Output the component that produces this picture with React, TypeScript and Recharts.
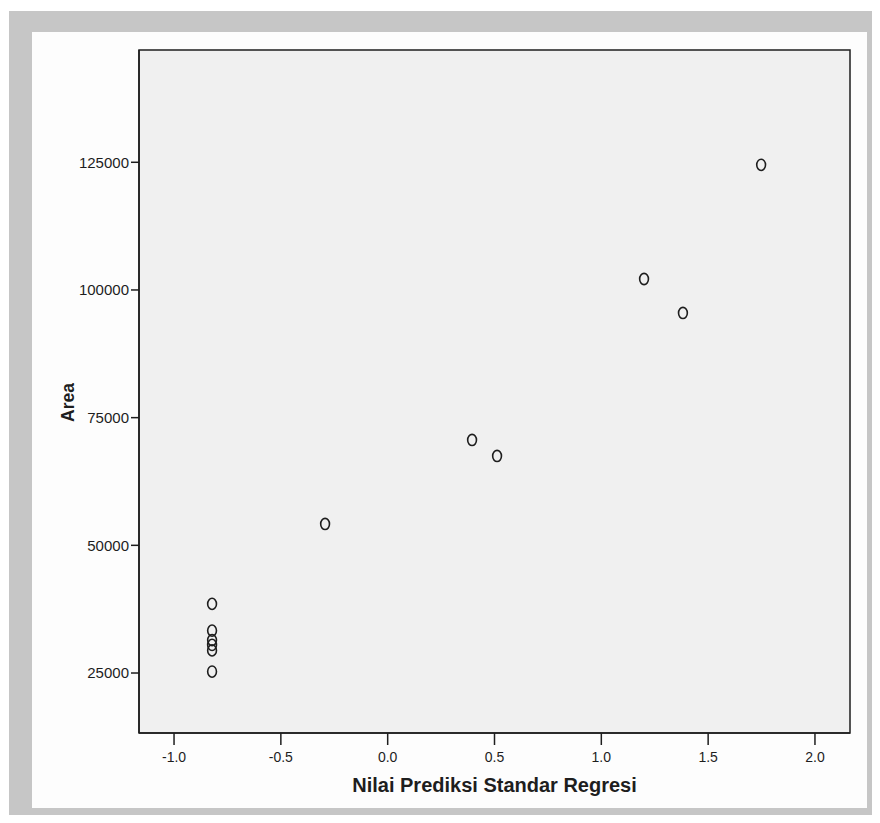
import { ScatterChart, Scatter, XAxis, YAxis, CartesianGrid, ReferenceArea } from "recharts";

const predicted = [1.748, 1.2, 1.382, 0.395, 0.512, -0.293, -0.822, -0.822, -0.822, -0.822, -0.822, -0.822];
const area = [124500, 102150, 95500, 70630, 67500, 54190, 38530, 33300, 31440, 30500, 29430, 25280];
const xTicks = [-1.0, -0.5, 0.0, 0.5, 1.0, 1.5, 2.0];
const yTicks = [25000, 50000, 75000, 100000, 125000];
const xDomain = [-1.164, 2.164];
const yDomain = [13254, 146985];

const points = predicted.map((x, i) => ({ x, y: area[i] }));

const FONT = '"Liberation Sans", Arial, sans-serif';
const INK = "#1e1e1e";

const Ring = (props: any) => (
  <ellipse cx={props.cx} cy={props.cy} rx={4.4} ry={5.6} fill="none" stroke={INK} strokeWidth={1.6} />
);

const YTitle = ({ viewBox }: any) => {
  const cx = viewBox.x + 8.5;
  const cy = viewBox.y + viewBox.height / 2 + 11;
  return (
    <text x={cx} y={cy} transform={`rotate(-90, ${cx}, ${cy})`} textAnchor="middle" dominantBaseline="central"
      fontFamily={FONT} fontWeight="bold" fontSize={17.5} fill={INK}>
      Area
    </text>
  );
};

const XTitle = ({ viewBox }: any) => (
  <text x={viewBox.x + viewBox.width / 2} y={viewBox.y + 59} textAnchor="middle"
    fontFamily={FONT} fontWeight="bold" fontSize={20} fill={INK}>
    Nilai Prediksi Standar Regresi
  </text>
);

export default function App() {
  return (
    <div style={{ position: "relative", width: 880, height: 823, margin: -8, background: "#fff" }}>
      <div style={{ position: "absolute", left: 9, top: 11, width: 868, height: 807, background: "#c6c6c6" }} />
      <div style={{ position: "absolute", left: 32, top: 32, width: 835, height: 776, background: "#fdfdfd" }} />
      <div style={{ position: "absolute", left: 0, top: 0 }}>
        <ScatterChart width={880} height={823} margin={{ top: 50, right: 30, bottom: 0, left: 59 }}>
          <CartesianGrid horizontal={false} vertical={false} fill="#f0f0f0" />
          <XAxis type="number" dataKey="x" domain={xDomain} ticks={xTicks} allowDataOverflow height={90}
            tickFormatter={(v: number) => v.toFixed(1)} tickSize={12} tickMargin={7}
            stroke={INK} strokeWidth={1.5} tick={{ fontSize: 14, fill: INK, fontFamily: FONT }}
            label={<XTitle />} />
          <YAxis type="number" dataKey="y" domain={yDomain} ticks={yTicks} allowDataOverflow width={80}
            tickSize={8} tickMargin={2} stroke={INK} strokeWidth={1.5}
            tick={{ fontSize: 15, fill: INK, fontFamily: FONT }} label={<YTitle />} />
          <ReferenceArea x1={xDomain[0]} x2={xDomain[1]} y1={yDomain[0]} y2={yDomain[1]}
            fill="none" stroke={INK} strokeWidth={1.5} fillOpacity={0} strokeOpacity={1} ifOverflow="visible" />
          <Scatter data={points} shape={<Ring />} isAnimationActive={false} />
        </ScatterChart>
      </div>
    </div>
  );
}
